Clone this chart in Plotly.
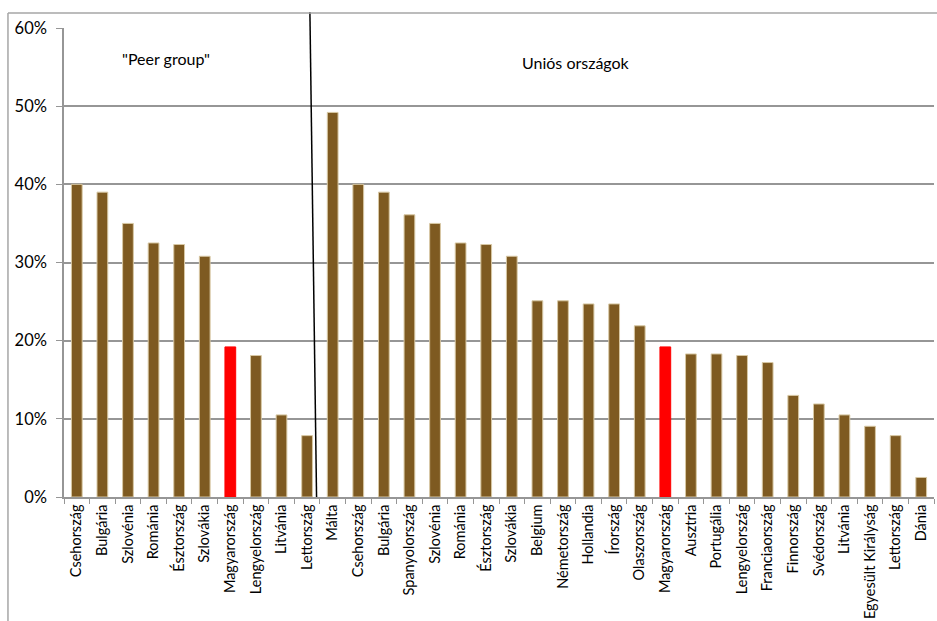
import plotly.graph_objects as go

# ---- data ----
peer_countries = ["Csehország", "Bulgária", "Szlovénia", "Románia", "Észtország",
                  "Szlovákia", "Magyarország", "Lengyelország", "Litvánia", "Lettország"]
peer_values = [0.400, 0.390, 0.350, 0.325, 0.323, 0.308, 0.192, 0.181, 0.105, 0.0785]

eu_countries = ["Málta", "Csehország", "Bulgária", "Spanyolország", "Szlovénia", "Románia",
                "Észtország", "Szlovákia", "Belgium", "Németország", "Hollandia", "Írország",
                "Olaszország", "Magyarország", "Ausztria", "Portugália", "Lengyelország",
                "Franciaország", "Finnország", "Svédország", "Litvánia", "Egyesült Királyság",
                "Lettország", "Dánia"]
eu_values = [0.492, 0.400, 0.390, 0.361, 0.350, 0.325, 0.323, 0.308, 0.251, 0.251, 0.247, 0.247,
             0.219, 0.192, 0.183, 0.183, 0.181, 0.172, 0.130, 0.119, 0.105, 0.0905, 0.0785, 0.025]

y_ticks = [0, 0.1, 0.2, 0.3, 0.4, 0.5, 0.6]
highlight = "Magyarország"
group_labels = ['"Peer group"', "Uniós országok"]

labels = peer_countries + eu_countries
values = peer_values + eu_values
xpos = list(range(len(labels)))

BROWN = "#7E5A21"
RED = "#FF0000"
GRID = "#969696"
FONT = "Lato, Open Sans, sans-serif"

colors = [RED if c == highlight else BROWN for c in labels]
edges = [RED if c == highlight else "#D8C8A4" for c in labels]

fig = go.Figure()
fig.add_trace(go.Bar(
    x=xpos, y=values, width=0.42,
    marker=dict(color=colors, line=dict(color=edges, width=1)),
    hoverinfo="skip",
))

n = len(labels)
fig.update_xaxes(
    range=[-0.5, n - 0.5], automargin=False,
    tickmode="array", tickvals=xpos, ticktext=labels, tickangle=-90,
    ticks="", showline=True, linecolor=GRID, linewidth=1.5,
    showgrid=False, zeroline=False,
    tickfont=dict(family=FONT, size=14.5, color="#000000"),
    minor=dict(tickmode="array", tickvals=[i - 0.5 for i in range(n + 1)],
               ticks="outside", ticklen=5, tickcolor=GRID, tickwidth=1, showgrid=False),
)
fig.update_yaxes(
    range=[0, 0.6], tickmode="array", tickvals=y_ticks, tickformat=".0%",
    showgrid=True, gridcolor=GRID, gridwidth=1.5, automargin=False,
    showline=True, linecolor=GRID, linewidth=1.5,
    ticks="outside", ticklen=6, tickcolor=GRID, ticklabelstandoff=6,
    zeroline=False,
    tickfont=dict(family=FONT, size=16.5, color="#000000"),
)

# divider between groups
fig.add_shape(type="line", xref="x", yref="paper", x0=9.37, y0=0, x1=9.11, y1=1.034,
              line=dict(color="#000000", width=1.5))
# outer chart border (top and left)
fig.add_shape(type="line", xref="paper", yref="paper", x0=-0.0644, y0=1.032, x1=1.2, y1=1.032,
              line=dict(color="#A6A6A6", width=1.5))
fig.add_shape(type="line", xref="paper", yref="paper", x0=-0.0644, y0=-0.5, x1=-0.0644, y1=1.032,
              line=dict(color="#A6A6A6", width=1.5))

fig.add_annotation(x=3.5, y=0.5616, xref="x", yref="y", text=group_labels[0], showarrow=False,
                   font=dict(family=FONT, size=16, color="#000000"))
fig.add_annotation(x=19.5, y=0.5565, xref="x", yref="y", text=group_labels[1], showarrow=False,
                   font=dict(family=FONT, size=16, color="#000000"))

fig.update_layout(
    width=937, height=621,
    margin=dict(l=64, r=3, t=28, b=124),
    paper_bgcolor="#FFFFFF", plot_bgcolor="#FFFFFF",
    showlegend=False, bargap=0.58,
)

fig.write_html("out.html")
